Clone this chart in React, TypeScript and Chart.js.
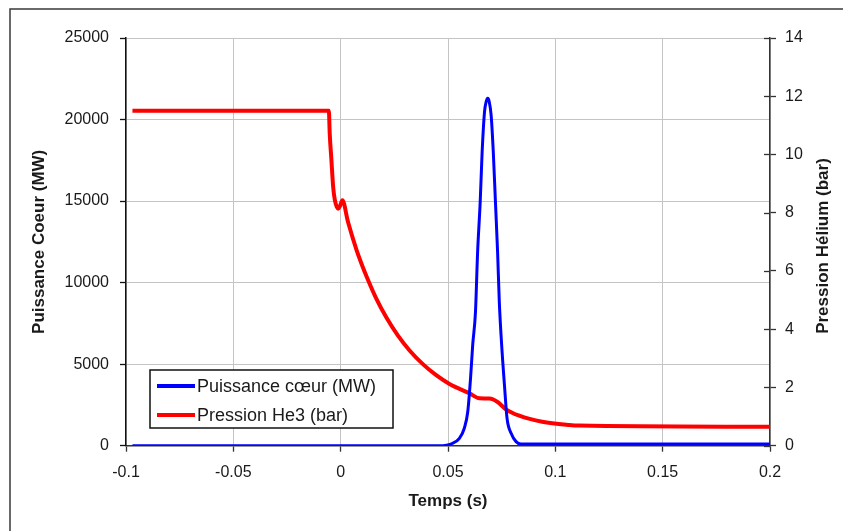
import React, { useEffect, useRef } from "react";
import { Chart, registerables } from "chart.js";

Chart.register(...registerables);

// Time (s) and core power (MW)
const powerTimes = [-0.097, 0.046, 0.0522, 0.0553, 0.0576, 0.0592, 0.0605, 0.0615, 0.0628, 0.0638, 0.065, 0.0659, 0.067, 0.0678, 0.0685, 0.0692, 0.0701, 0.0711, 0.0721, 0.0731, 0.0739, 0.075, 0.0763, 0.0775, 0.0794, 0.0817, 0.084, 0.2];
const powerValues = [0, 0, 150, 450, 1070, 2080, 4130, 6170, 8210, 11890, 14950, 18010, 20460, 21100, 21300, 21100, 20260, 18010, 14950, 11890, 8820, 6170, 3720, 1680, 760, 250, 100, 100];

// Time (s) and He3 pressure (bar)
const pressureTimes = [-0.097, -0.0055, -0.0051, -0.0043, -0.0035, -0.0027, -0.0012, -0.0004, 0.0008, 0.0034, 0.0073, 0.0097, 0.0127, 0.0166, 0.0213, 0.0267, 0.0321, 0.0383, 0.0445, 0.0507, 0.06, 0.0646, 0.0693, 0.0731, 0.077, 0.0832, 0.0939, 0.1065, 0.1111, 0.2];
const pressureValues = [11.5, 11.5, 10.72, 9.8, 8.89, 8.43, 8.14, 8.22, 8.43, 7.69, 6.74, 6.25, 5.7, 5.05, 4.4, 3.78, 3.27, 2.8, 2.42, 2.12, 1.8, 1.63, 1.62, 1.5, 1.25, 1.03, 0.82, 0.71, 0.69, 0.65];

const xTicks = [-0.1, -0.05, 0, 0.05, 0.1, 0.15, 0.2];
const xTickLabels = ["-0.1", "-0.05", "0", "0.05", "0.1", "0.15", "0.2"];
const powerTicks = [0, 5000, 10000, 15000, 20000, 25000];
const pressureTicks = [0, 2, 4, 6, 8, 10, 12, 14];

const seriesLabels = ["Puissance cœur (MW)", "Pression He3 (bar)"];
const xTitle = "Temps (s)";
const yTitle = "Puissance Coeur (MW)";
const y1Title = "Pression Hélium (bar)";

const FONT = "'Liberation Sans', Arial, sans-serif";
const TEXT = "#1a1a1a";

const decorPlugin = {
  id: "decor",
  beforeDraw(chart: any) {
    const ctx = chart.ctx;
    ctx.save();
    ctx.fillStyle = "#fff";
    ctx.fillRect(0, 0, chart.width, chart.height);
    ctx.strokeStyle = "#3a3a3a";
    ctx.lineWidth = 1.5;
    ctx.strokeRect(10, 9, chart.width + 10, chart.height + 10);
    ctx.restore();
  },
  afterDraw(chart: any) {
    const ctx = chart.ctx;
    const area = chart.chartArea;
    const y1 = chart.scales.y1;
    ctx.save();
    ctx.strokeStyle = "#333";
    ctx.lineWidth = 1.3;
    y1.ticks.forEach((t: any) => {
      const y = Math.round(y1.getPixelForValue(t.value)) + 0.5;
      ctx.beginPath();
      ctx.moveTo(area.right - 6, y);
      ctx.lineTo(area.right, y);
      ctx.stroke();
    });
    ctx.fillStyle = TEXT;
    ctx.font = `bold 17px ${FONT}`;
    ctx.textAlign = "center";
    ctx.textBaseline = "middle";
    ctx.translate(823, 246);
    ctx.rotate(-Math.PI / 2);
    ctx.fillText(y1Title, 0, 0);
    ctx.restore();

    ctx.save();
    const bx = area.left + 24;
    const by = area.top + 332;
    const bw = 243;
    const bh = 58;
    ctx.fillStyle = "#fff";
    ctx.fillRect(bx, by, bw, bh);
    ctx.strokeStyle = "#111";
    ctx.lineWidth = 1.5;
    ctx.strokeRect(bx, by, bw, bh);
    chart.data.datasets.forEach((ds: any, i: number) => {
      const ly = by + 16 + i * 29;
      ctx.strokeStyle = ds.borderColor;
      ctx.lineWidth = 4;
      ctx.beginPath();
      ctx.moveTo(bx + 7, ly);
      ctx.lineTo(bx + 45, ly);
      ctx.stroke();
      ctx.fillStyle = TEXT;
      ctx.font = `18px ${FONT}`;
      ctx.textAlign = "left";
      ctx.textBaseline = "middle";
      ctx.fillText(ds.label, bx + 47, ly + 1);
    });
    ctx.restore();
  },
};

export default function App() {
  const ref = useRef<HTMLCanvasElement>(null);

  useEffect(() => {
    if (!ref.current) return;
    const chart = new Chart(ref.current, {
      type: "line",
      data: {
        datasets: [
          {
            label: seriesLabels[0],
            data: powerTimes.map((t, i) => ({ x: t, y: powerValues[i] })),
            borderColor: "#0000ff",
            backgroundColor: "#0000ff",
            borderWidth: 3,
            pointRadius: 0,
            cubicInterpolationMode: "monotone",
            yAxisID: "y",
            order: 1,
          },
          {
            label: seriesLabels[1],
            data: pressureTimes.map((t, i) => ({ x: t, y: pressureValues[i] })),
            borderColor: "#ff0000",
            backgroundColor: "#ff0000",
            borderWidth: 4,
            pointRadius: 0,
            cubicInterpolationMode: "monotone",
            yAxisID: "y1",
            order: 2,
          },
        ],
      },
      options: {
        animation: false,
        responsive: false,
        layout: { padding: { top: 38, left: 0, right: 0, bottom: 0 } },
        plugins: { legend: { display: false }, tooltip: { enabled: false } },
        scales: {
          x: {
            type: "linear",
            min: -0.1,
            max: 0.2,
            afterBuildTicks: (s: any) => {
              s.ticks = xTicks.map((v) => ({ value: v }));
            },
            afterFit: (s: any) => {
              s.height = 85.3;
            },
            ticks: {
              font: { family: FONT, size: 16 },
              color: TEXT,
              padding: 11,
              maxRotation: 0,
              autoSkip: false,
              callback: (v: any) => {
                const i = xTicks.findIndex((t) => Math.abs(t - v) < 1e-9);
                return i >= 0 ? xTickLabels[i] : "";
              },
            },
            grid: { color: "#c4c4c4", lineWidth: 1, tickLength: 6, tickColor: "#333", tickWidth: 1.3 },
            border: { display: true, color: "#333", width: 1.5 },
            title: {
              display: true,
              text: xTitle,
              font: { family: FONT, size: 17, weight: "bold" },
              color: TEXT,
              padding: { top: 0, bottom: 19 },
            },
          },
          y: {
            position: "left",
            min: 0,
            max: 25000,
            afterBuildTicks: (s: any) => {
              s.ticks = powerTicks.map((v) => ({ value: v }));
            },
            afterFit: (s: any) => {
              s.width = 126;
            },
            ticks: {
              font: { family: FONT, size: 16 },
              color: TEXT,
              padding: 11,
              callback: (v: any) => String(v),
            },
            grid: { color: "#c4c4c4", lineWidth: 1, tickLength: 6, tickColor: "#111", tickWidth: 1.3 },
            border: { display: true, color: "#111", width: 1.5 },
            title: {
              display: true,
              text: yTitle,
              font: { family: FONT, size: 17, weight: "bold" },
              color: TEXT,
              padding: { top: 29, bottom: 0 },
            },
          },
          y1: {
            position: "right",
            min: 0,
            max: 14,
            afterBuildTicks: (s: any) => {
              s.ticks = pressureTicks.map((v) => ({ value: v }));
            },
            afterFit: (s: any) => {
              s.width = 73;
            },
            ticks: {
              font: { family: FONT, size: 16 },
              color: TEXT,
              padding: 9,
              callback: (v: any) => String(v),
            },
            grid: { drawOnChartArea: false, tickLength: 6, tickColor: "#333", tickWidth: 1.3 },
            border: { display: true, color: "#333", width: 1.5 },
            title: { display: false },
          },
        },
      },
      plugins: [decorPlugin],
    } as any);
    return () => chart.destroy();
  }, []);

  return (
    <div style={{ position: "absolute", left: 0, top: 0, width: 843, height: 531 }}>
      <canvas ref={ref} width={843} height={531} style={{ display: "block" }} />
    </div>
  );
}
